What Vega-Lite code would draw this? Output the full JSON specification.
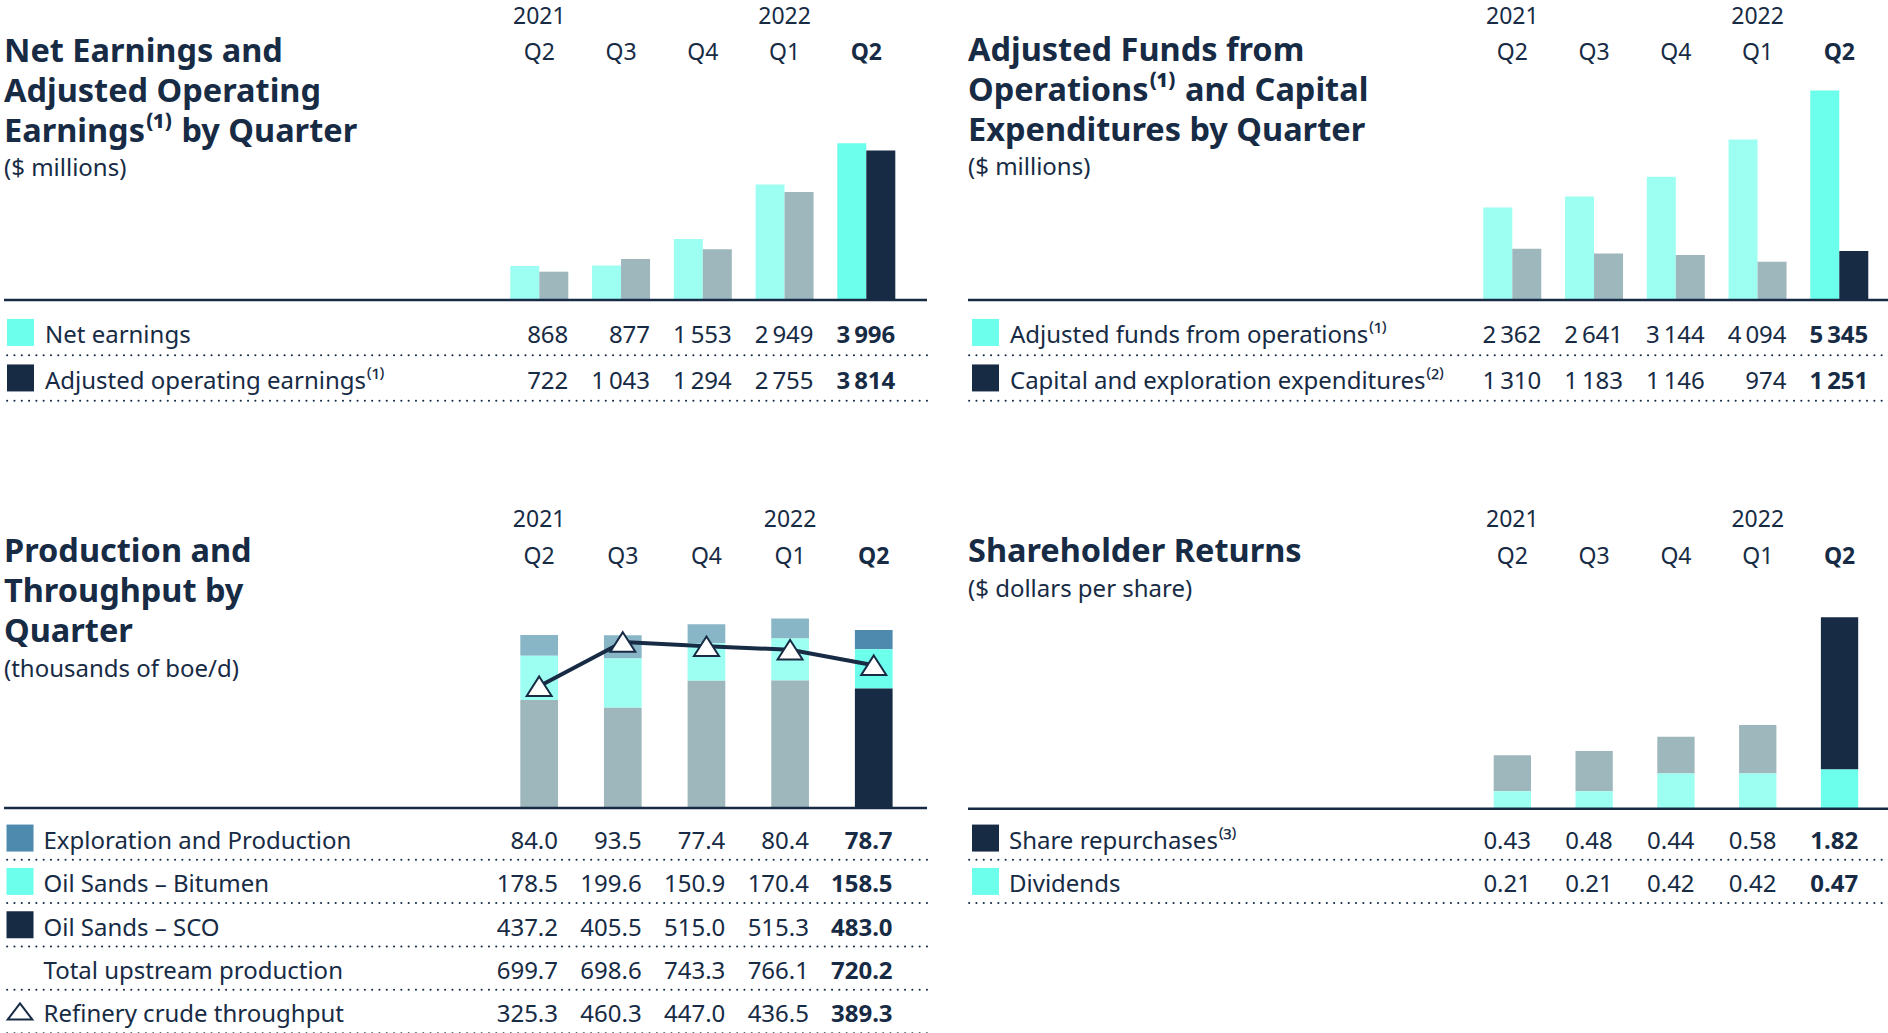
{
"$schema": "https://vega.github.io/schema/vega-lite/v6.json",
"background": "white",
"padding": {"left": 2, "top": 4.7, "right": 0, "bottom": 0},
"config": {
  "font": "Noto Sans",
  "view": {"stroke": null},
  "locale": {"number": {"decimal": ".", "thousands": "\u2009", "grouping": [3], "currency": ["$", ""]}},
  "title": {"orient": "bottom", "anchor": "start", "frame": "group", "baseline": "top", "fontSize": 32.5, "fontWeight": "bold", "color": "#172b45", "lineHeight": 40, "subtitleFontSize": 24, "subtitleColor": "#172b45", "subtitlePadding": 9, "subtitleFontWeight": "normal", "subtitleLineHeight": 30}
},
"datasets": {
  "earn": [
    {"q": "Q2 2021", "series": "Net earnings", "value": 868},
    {"q": "Q2 2021", "series": "Adjusted operating earnings⁽¹⁾", "value": 722},
    {"q": "Q3 2021", "series": "Net earnings", "value": 877},
    {"q": "Q3 2021", "series": "Adjusted operating earnings⁽¹⁾", "value": 1043},
    {"q": "Q4 2021", "series": "Net earnings", "value": 1553},
    {"q": "Q4 2021", "series": "Adjusted operating earnings⁽¹⁾", "value": 1294},
    {"q": "Q1 2022", "series": "Net earnings", "value": 2949},
    {"q": "Q1 2022", "series": "Adjusted operating earnings⁽¹⁾", "value": 2755},
    {"q": "Q2 2022", "series": "Net earnings", "value": 3996},
    {"q": "Q2 2022", "series": "Adjusted operating earnings⁽¹⁾", "value": 3814}
  ],
  "funds": [
    {"q": "Q2 2021", "series": "Adjusted funds from operations⁽¹⁾", "value": 2362},
    {"q": "Q2 2021", "series": "Capital and exploration expenditures⁽²⁾", "value": 1310},
    {"q": "Q3 2021", "series": "Adjusted funds from operations⁽¹⁾", "value": 2641},
    {"q": "Q3 2021", "series": "Capital and exploration expenditures⁽²⁾", "value": 1183},
    {"q": "Q4 2021", "series": "Adjusted funds from operations⁽¹⁾", "value": 3144},
    {"q": "Q4 2021", "series": "Capital and exploration expenditures⁽²⁾", "value": 1146},
    {"q": "Q1 2022", "series": "Adjusted funds from operations⁽¹⁾", "value": 4094},
    {"q": "Q1 2022", "series": "Capital and exploration expenditures⁽²⁾", "value": 974},
    {"q": "Q2 2022", "series": "Adjusted funds from operations⁽¹⁾", "value": 5345},
    {"q": "Q2 2022", "series": "Capital and exploration expenditures⁽²⁾", "value": 1251}
  ],
  "prod": [
    {"q": "Q2 2021", "series": "Exploration and Production", "value": 84.0},
    {"q": "Q3 2021", "series": "Exploration and Production", "value": 93.5},
    {"q": "Q4 2021", "series": "Exploration and Production", "value": 77.4},
    {"q": "Q1 2022", "series": "Exploration and Production", "value": 80.4},
    {"q": "Q2 2022", "series": "Exploration and Production", "value": 78.7},
    {"q": "Q2 2021", "series": "Oil Sands – Bitumen", "value": 178.5},
    {"q": "Q3 2021", "series": "Oil Sands – Bitumen", "value": 199.6},
    {"q": "Q4 2021", "series": "Oil Sands – Bitumen", "value": 150.9},
    {"q": "Q1 2022", "series": "Oil Sands – Bitumen", "value": 170.4},
    {"q": "Q2 2022", "series": "Oil Sands – Bitumen", "value": 158.5},
    {"q": "Q2 2021", "series": "Oil Sands – SCO", "value": 437.2},
    {"q": "Q3 2021", "series": "Oil Sands – SCO", "value": 405.5},
    {"q": "Q4 2021", "series": "Oil Sands – SCO", "value": 515.0},
    {"q": "Q1 2022", "series": "Oil Sands – SCO", "value": 515.3},
    {"q": "Q2 2022", "series": "Oil Sands – SCO", "value": 483.0},
    {"q": "Q2 2021", "series": "Refinery crude throughput", "value": 325.3},
    {"q": "Q3 2021", "series": "Refinery crude throughput", "value": 460.3},
    {"q": "Q4 2021", "series": "Refinery crude throughput", "value": 447.0},
    {"q": "Q1 2022", "series": "Refinery crude throughput", "value": 436.5},
    {"q": "Q2 2022", "series": "Refinery crude throughput", "value": 389.3}
  ],
  "returns": [
    {"q": "Q2 2021", "series": "Share repurchases⁽³⁾", "value": 0.43},
    {"q": "Q2 2021", "series": "Dividends", "value": 0.21},
    {"q": "Q3 2021", "series": "Share repurchases⁽³⁾", "value": 0.48},
    {"q": "Q3 2021", "series": "Dividends", "value": 0.21},
    {"q": "Q4 2021", "series": "Share repurchases⁽³⁾", "value": 0.44},
    {"q": "Q4 2021", "series": "Dividends", "value": 0.42},
    {"q": "Q1 2022", "series": "Share repurchases⁽³⁾", "value": 0.58},
    {"q": "Q1 2022", "series": "Dividends", "value": 0.42},
    {"q": "Q2 2022", "series": "Share repurchases⁽³⁾", "value": 1.82},
    {"q": "Q2 2022", "series": "Dividends", "value": 0.47}
  ],
  "rows1": [{"row": "Net earnings"}, {"row": "Adjusted operating earnings⁽¹⁾"}],
  "rows2": [{"row": "Adjusted funds from operations⁽¹⁾"}, {"row": "Capital and exploration expenditures⁽²⁾"}],
  "rows3": [{"row": "Exploration and Production"}, {"row": "Oil Sands – Bitumen"}, {"row": "Oil Sands – SCO"}, {"row": "Total upstream production"}, {"row": "Refinery crude throughput"}],
  "rows4": [{"row": "Share repurchases⁽³⁾"}, {"row": "Dividends"}]
},
"spacing": 104.1,
"vconcat": [
{
"hconcat": [
{
  "width": 923, "height": 333,
  "title": {"text": ["Net Earnings and", "Adjusted Operating", "Earnings⁽¹⁾ by Quarter"], "subtitle": "($ millions)", "offset": -368},
  "layer": [
    {
      "data": {"name": "earn"},
      "layer": [
        {
          "transform": [{"filter": "datum.series == 'Net earnings'"}],
          "mark": {"type": "bar"},
          "encoding": {
            "x": {"field": "q", "type": "nominal", "scale": {"type": "band", "domain": ["Q2 2021", "Q3 2021", "Q4 2021", "Q1 2022", "Q2 2022"], "range": [506.3, 862.3], "paddingInner": 0.6453, "paddingOuter": 0}, "axis": null},
            "y": {"field": "value", "type": "quantitative", "scale": {"domain": [-2645.4, 5849.5], "nice": false, "zero": false}, "axis": null},
            "y2": {"datum": 0},
            "color": {"field": "q", "type": "nominal", "scale": {"domain": ["Q2 2021", "Q3 2021", "Q4 2021", "Q1 2022", "Q2 2022"], "range": ["#9cfff2", "#9cfff2", "#9cfff2", "#9cfff2", "#6bffec"]}, "legend": null}
          }
        },
        {
          "transform": [{"filter": "datum.series != 'Net earnings'"}],
          "mark": {"type": "bar"},
          "encoding": {
            "x": {"field": "q", "type": "nominal", "scale": {"type": "band", "domain": ["Q2 2021", "Q3 2021", "Q4 2021", "Q1 2022", "Q2 2022"], "range": [535.3, 891.3], "paddingInner": 0.6453, "paddingOuter": 0}, "axis": null},
            "y": {"field": "value", "type": "quantitative", "scale": {"domain": [-2645.4, 5849.5], "nice": false, "zero": false}, "axis": null},
            "y2": {"datum": 0},
            "color": {"field": "q", "type": "nominal", "scale": {"domain": ["Q2 2021", "Q3 2021", "Q4 2021", "Q1 2022", "Q2 2022"], "range": ["#9eb7bc", "#9eb7bc", "#9eb7bc", "#9eb7bc", "#172b45"]}, "legend": null}
          }
        },
        {
          "data": {"values": [{}]},
          "mark": {"type": "rule", "color": "#172b45", "strokeWidth": 2.5},
          "encoding": {"y": {"datum": 0, "type": "quantitative", "scale": {"domain": [-2645.4, 5849.5], "nice": false, "zero": false}, "axis": null}}
        }
      ],
      "resolve": {"scale": {"x": "independent", "color": "independent"}}
    },
    {
      "data": {"name": "earn"},
      "layer": [
        {
          "transform": [{"filter": "datum.q != 'Q2 2022'"}],
          "mark": {"type": "text", "align": "right", "baseline": "middle", "dy": 4, "fontSize": 24, "color": "#172b45"},
          "encoding": {
            "x": {"field": "q", "type": "nominal", "bandPosition": 1, "scale": {"type": "band", "domain": ["Q2 2021", "Q3 2021", "Q4 2021", "Q1 2022", "Q2 2022"], "range": [506.3, 891.3], "paddingInner": 0.2905, "paddingOuter": 0},
              "axis": {"orient": "top", "domain": false, "ticks": false, "tickSize": 0, "grid": false, "title": null, "labelAngle": 0, "labelFontSize": 23, "labelColor": "#172b45", "labelLineHeight": 36.6, "labelPadding": 47.3, "labelBaseline": "alphabetic", "labelOverlap": false, "labelBound": false, "labelFlush": false, "labelExpr": "datum.value == 'Q2 2021' ? ['2021', 'Q2'] : datum.value == 'Q1 2022' ? ['2022', 'Q1'] : ['', substring(datum.value, 0, 2)]", "labelFontWeight": {"condition": {"test": "datum.value == 'Q2 2022'", "value": "bold"}, "value": "normal"}}},
            "y": {"field": "series", "type": "nominal", "scale": {"type": "band", "domain": ["Net earnings", "Adjusted operating earnings⁽¹⁾"], "range": [239, 330], "paddingInner": 0, "paddingOuter": 0}, "axis": null},
            "text": {"field": "value", "type": "quantitative", "format": ",.0f"}
          }
        },
        {
          "transform": [{"filter": "datum.q == 'Q2 2022'"}],
          "mark": {"type": "text", "align": "right", "baseline": "middle", "dy": 4, "fontSize": 24, "fontWeight": "bold", "color": "#172b45"},
          "encoding": {
            "x": {"field": "q", "type": "nominal", "bandPosition": 1, "scale": {"type": "band", "domain": ["Q2 2021", "Q3 2021", "Q4 2021", "Q1 2022", "Q2 2022"], "range": [506.3, 891.3], "paddingInner": 0.2905, "paddingOuter": 0},
              "axis": {"orient": "top", "domain": false, "ticks": false, "tickSize": 0, "grid": false, "title": null, "labelAngle": 0, "labelFontSize": 23, "labelColor": "#172b45", "labelLineHeight": 36.6, "labelPadding": 47.3, "labelBaseline": "alphabetic", "labelOverlap": false, "labelBound": false, "labelFlush": false, "labelExpr": "datum.value == 'Q2 2021' ? ['2021', 'Q2'] : datum.value == 'Q1 2022' ? ['2022', 'Q1'] : ['', substring(datum.value, 0, 2)]", "labelFontWeight": {"condition": {"test": "datum.value == 'Q2 2022'", "value": "bold"}, "value": "normal"}}},
            "y": {"field": "series", "type": "nominal", "scale": {"type": "band", "domain": ["Net earnings", "Adjusted operating earnings⁽¹⁾"], "range": [239, 330], "paddingInner": 0, "paddingOuter": 0}, "axis": null},
            "text": {"field": "value", "type": "quantitative", "format": ",.0f"}
          }
        },
        {
          "data": {"name": "rows1"},
          "mark": {"type": "rule", "color": "#172b45", "strokeWidth": 2, "strokeDash": [0.1, 7.2], "strokeCap": "round"},
          "encoding": {"y": {"field": "row", "type": "nominal", "bandPosition": 1, "scale": {"type": "band", "domain": ["Net earnings", "Adjusted operating earnings⁽¹⁾"], "range": [239, 330], "paddingInner": 0, "paddingOuter": 0}, "axis": null}}
        }
      ]
    },
    {
      "data": {"name": "rows1"},
      "layer": [
        {
          "mark": {"type": "point", "shape": "square", "filled": true, "size": 729, "opacity": 1},
          "encoding": {
            "x": {"datum": "swatch", "type": "nominal", "scale": {"type": "point", "domain": ["swatch", "label"], "range": [16.5, 41], "padding": 0}, "axis": null},
            "y": {"field": "row", "type": "nominal", "scale": {"type": "band", "domain": ["Net earnings", "Adjusted operating earnings⁽¹⁾"], "range": [239, 330], "paddingInner": 0, "paddingOuter": 0}, "axis": null},
            "color": {"field": "row", "type": "nominal", "scale": {"domain": ["Net earnings", "Adjusted operating earnings⁽¹⁾"], "range": ["#6bffec", "#172b45"]}, "legend": null}
          }
        },
        {
          "mark": {"type": "text", "align": "left", "baseline": "middle", "dy": 4, "fontSize": 24, "color": "#172b45"},
          "encoding": {
            "x": {"datum": "label", "type": "nominal", "scale": {"type": "point", "domain": ["swatch", "label"], "range": [16.5, 41], "padding": 0}, "axis": null},
            "y": {"field": "row", "type": "nominal", "scale": {"type": "band", "domain": ["Net earnings", "Adjusted operating earnings⁽¹⁾"], "range": [239, 330], "paddingInner": 0, "paddingOuter": 0}, "axis": null},
            "text": {"field": "row", "type": "nominal"}
          }
        }
      ]
    }
  ],
  "resolve": {"scale": {"x": "independent", "y": "independent", "color": "independent"}}
},
{
  "width": 921, "height": 333,
  "title": {"text": ["Adjusted Funds from", "Operations⁽¹⁾ and Capital", "Expenditures by Quarter"], "subtitle": "($ millions)", "offset": -369},
  "layer": [
    {
      "data": {"name": "funds"},
      "layer": [
        {
          "transform": [{"filter": "datum.series == 'Adjusted funds from operations⁽¹⁾'"}],
          "mark": {"type": "bar"},
          "encoding": {
            "x": {"field": "q", "type": "nominal", "scale": {"type": "band", "domain": ["Q2 2021", "Q3 2021", "Q4 2021", "Q1 2022", "Q2 2022"], "range": [515.3, 871.3], "paddingInner": 0.6453, "paddingOuter": 0}, "axis": null},
            "y": {"field": "value", "type": "quantitative", "scale": {"domain": [-2645.4, 5849.5], "nice": false, "zero": false}, "axis": null},
            "y2": {"datum": 0},
            "color": {"field": "q", "type": "nominal", "scale": {"domain": ["Q2 2021", "Q3 2021", "Q4 2021", "Q1 2022", "Q2 2022"], "range": ["#9cfff2", "#9cfff2", "#9cfff2", "#9cfff2", "#6bffec"]}, "legend": null}
          }
        },
        {
          "transform": [{"filter": "datum.series != 'Adjusted funds from operations⁽¹⁾'"}],
          "mark": {"type": "bar"},
          "encoding": {
            "x": {"field": "q", "type": "nominal", "scale": {"type": "band", "domain": ["Q2 2021", "Q3 2021", "Q4 2021", "Q1 2022", "Q2 2022"], "range": [544.3, 900.3], "paddingInner": 0.6453, "paddingOuter": 0}, "axis": null},
            "y": {"field": "value", "type": "quantitative", "scale": {"domain": [-2645.4, 5849.5], "nice": false, "zero": false}, "axis": null},
            "y2": {"datum": 0},
            "color": {"field": "q", "type": "nominal", "scale": {"domain": ["Q2 2021", "Q3 2021", "Q4 2021", "Q1 2022", "Q2 2022"], "range": ["#9eb7bc", "#9eb7bc", "#9eb7bc", "#9eb7bc", "#172b45"]}, "legend": null}
          }
        },
        {
          "data": {"values": [{}]},
          "mark": {"type": "rule", "color": "#172b45", "strokeWidth": 2.5},
          "encoding": {"y": {"datum": 0, "type": "quantitative", "scale": {"domain": [-2645.4, 5849.5], "nice": false, "zero": false}, "axis": null}}
        }
      ],
      "resolve": {"scale": {"x": "independent", "color": "independent"}}
    },
    {
      "data": {"name": "funds"},
      "layer": [
        {
          "transform": [{"filter": "datum.q != 'Q2 2022'"}],
          "mark": {"type": "text", "align": "right", "baseline": "middle", "dy": 4, "fontSize": 24, "color": "#172b45"},
          "encoding": {
            "x": {"field": "q", "type": "nominal", "bandPosition": 1, "scale": {"type": "band", "domain": ["Q2 2021", "Q3 2021", "Q4 2021", "Q1 2022", "Q2 2022"], "range": [515.3, 900.3], "paddingInner": 0.2905, "paddingOuter": 0},
              "axis": {"orient": "top", "domain": false, "ticks": false, "tickSize": 0, "grid": false, "title": null, "labelAngle": 0, "labelFontSize": 23, "labelColor": "#172b45", "labelLineHeight": 36.6, "labelPadding": 47.3, "labelBaseline": "alphabetic", "labelOverlap": false, "labelBound": false, "labelFlush": false, "labelExpr": "datum.value == 'Q2 2021' ? ['2021', 'Q2'] : datum.value == 'Q1 2022' ? ['2022', 'Q1'] : ['', substring(datum.value, 0, 2)]", "labelFontWeight": {"condition": {"test": "datum.value == 'Q2 2022'", "value": "bold"}, "value": "normal"}}},
            "y": {"field": "series", "type": "nominal", "scale": {"type": "band", "domain": ["Adjusted funds from operations⁽¹⁾", "Capital and exploration expenditures⁽²⁾"], "range": [239, 330], "paddingInner": 0, "paddingOuter": 0}, "axis": null},
            "text": {"field": "value", "type": "quantitative", "format": ",.0f"}
          }
        },
        {
          "transform": [{"filter": "datum.q == 'Q2 2022'"}],
          "mark": {"type": "text", "align": "right", "baseline": "middle", "dy": 4, "fontSize": 24, "fontWeight": "bold", "color": "#172b45"},
          "encoding": {
            "x": {"field": "q", "type": "nominal", "bandPosition": 1, "scale": {"type": "band", "domain": ["Q2 2021", "Q3 2021", "Q4 2021", "Q1 2022", "Q2 2022"], "range": [515.3, 900.3], "paddingInner": 0.2905, "paddingOuter": 0},
              "axis": {"orient": "top", "domain": false, "ticks": false, "tickSize": 0, "grid": false, "title": null, "labelAngle": 0, "labelFontSize": 23, "labelColor": "#172b45", "labelLineHeight": 36.6, "labelPadding": 47.3, "labelBaseline": "alphabetic", "labelOverlap": false, "labelBound": false, "labelFlush": false, "labelExpr": "datum.value == 'Q2 2021' ? ['2021', 'Q2'] : datum.value == 'Q1 2022' ? ['2022', 'Q1'] : ['', substring(datum.value, 0, 2)]", "labelFontWeight": {"condition": {"test": "datum.value == 'Q2 2022'", "value": "bold"}, "value": "normal"}}},
            "y": {"field": "series", "type": "nominal", "scale": {"type": "band", "domain": ["Adjusted funds from operations⁽¹⁾", "Capital and exploration expenditures⁽²⁾"], "range": [239, 330], "paddingInner": 0, "paddingOuter": 0}, "axis": null},
            "text": {"field": "value", "type": "quantitative", "format": ",.0f"}
          }
        },
        {
          "data": {"name": "rows2"},
          "mark": {"type": "rule", "color": "#172b45", "strokeWidth": 2, "strokeDash": [0.1, 7.2], "strokeCap": "round"},
          "encoding": {"y": {"field": "row", "type": "nominal", "bandPosition": 1, "scale": {"type": "band", "domain": ["Adjusted funds from operations⁽¹⁾", "Capital and exploration expenditures⁽²⁾"], "range": [239, 330], "paddingInner": 0, "paddingOuter": 0}, "axis": null}}
        }
      ]
    },
    {
      "data": {"name": "rows2"},
      "layer": [
        {
          "mark": {"type": "point", "shape": "square", "filled": true, "size": 729, "opacity": 1},
          "encoding": {
            "x": {"datum": "swatch", "type": "nominal", "scale": {"type": "point", "domain": ["swatch", "label"], "range": [17.5, 42], "padding": 0}, "axis": null},
            "y": {"field": "row", "type": "nominal", "scale": {"type": "band", "domain": ["Adjusted funds from operations⁽¹⁾", "Capital and exploration expenditures⁽²⁾"], "range": [239, 330], "paddingInner": 0, "paddingOuter": 0}, "axis": null},
            "color": {"field": "row", "type": "nominal", "scale": {"domain": ["Adjusted funds from operations⁽¹⁾", "Capital and exploration expenditures⁽²⁾"], "range": ["#6bffec", "#172b45"]}, "legend": null}
          }
        },
        {
          "mark": {"type": "text", "align": "left", "baseline": "middle", "dy": 4, "fontSize": 24, "color": "#172b45"},
          "encoding": {
            "x": {"datum": "label", "type": "nominal", "scale": {"type": "point", "domain": ["swatch", "label"], "range": [17.5, 42], "padding": 0}, "axis": null},
            "y": {"field": "row", "type": "nominal", "scale": {"type": "band", "domain": ["Adjusted funds from operations⁽¹⁾", "Capital and exploration expenditures⁽²⁾"], "range": [239, 330], "paddingInner": 0, "paddingOuter": 0}, "axis": null},
            "text": {"field": "row", "type": "nominal"}
          }
        }
      ]
    }
  ],
  "resolve": {"scale": {"x": "independent", "y": "independent", "color": "independent"}}
}
],
"spacing": 41,
"bounds": "flush"
},
{
"hconcat": [
{
  "width": 923, "height": 460,
  "title": {"text": ["Production and", "Throughput by", "Quarter"], "subtitle": "(thousands of boe/d)", "offset": -497.7},
  "layer": [
    {
      "data": {"name": "prod"},
      "layer": [
        {
          "transform": [{"filter": "datum.series != 'Refinery crude throughput'"}, {"filter": "datum.q != 'Q2 2022'"}],
          "mark": {"type": "bar"},
          "encoding": {
            "x": {"field": "q", "type": "nominal", "scale": {"type": "band", "domain": ["Q2 2021", "Q3 2021", "Q4 2021", "Q1 2022", "Q2 2022"], "range": [516.3, 888.6], "paddingInner": 0.5493, "paddingOuter": 0},
              "axis": {"orient": "top", "domain": false, "ticks": false, "tickSize": 0, "grid": false, "title": null, "labelAngle": 0, "labelFontSize": 23, "labelColor": "#172b45", "labelLineHeight": 36.6, "labelPadding": 47.3, "labelBaseline": "alphabetic", "labelOverlap": false, "labelBound": false, "labelFlush": false, "labelExpr": "datum.value == 'Q2 2021' ? ['2021', 'Q2'] : datum.value == 'Q1 2022' ? ['2022', 'Q1'] : ['', substring(datum.value, 0, 2)]", "labelFontWeight": {"condition": {"test": "datum.value == 'Q2 2022'", "value": "bold"}, "value": "normal"}}},
            "y": {"field": "value", "type": "quantitative", "stack": "zero", "scale": {"domain": [-912.3, 947.0], "nice": false, "zero": false}, "axis": null},
            "color": {"field": "series", "type": "nominal", "scale": {"domain": ["Exploration and Production", "Oil Sands – Bitumen", "Oil Sands – SCO"], "range": ["#88b6c6", "#9cfff2", "#9eb7bc"]}, "legend": null},
            "order": {"field": "series", "sort": "descending"}
          }
        },
        {
          "transform": [{"filter": "datum.series != 'Refinery crude throughput'"}, {"filter": "datum.q == 'Q2 2022'"}],
          "mark": {"type": "bar"},
          "encoding": {
            "x": {"field": "q", "type": "nominal", "scale": {"type": "band", "domain": ["Q2 2021", "Q3 2021", "Q4 2021", "Q1 2022", "Q2 2022"], "range": [516.3, 888.6], "paddingInner": 0.5493, "paddingOuter": 0},
              "axis": {"orient": "top", "domain": false, "ticks": false, "tickSize": 0, "grid": false, "title": null, "labelAngle": 0, "labelFontSize": 23, "labelColor": "#172b45", "labelLineHeight": 36.6, "labelPadding": 47.3, "labelBaseline": "alphabetic", "labelOverlap": false, "labelBound": false, "labelFlush": false, "labelExpr": "datum.value == 'Q2 2021' ? ['2021', 'Q2'] : datum.value == 'Q1 2022' ? ['2022', 'Q1'] : ['', substring(datum.value, 0, 2)]", "labelFontWeight": {"condition": {"test": "datum.value == 'Q2 2022'", "value": "bold"}, "value": "normal"}}},
            "y": {"field": "value", "type": "quantitative", "stack": "zero", "scale": {"domain": [-912.3, 947.0], "nice": false, "zero": false}, "axis": null},
            "color": {"field": "series", "type": "nominal", "scale": {"domain": ["Exploration and Production", "Oil Sands – Bitumen", "Oil Sands – SCO"], "range": ["#4e8aad", "#6bffec", "#172b45"]}, "legend": null},
            "order": {"field": "series", "sort": "descending"}
          }
        },
        {
          "data": {"values": [{}]},
          "mark": {"type": "rule", "color": "#172b45", "strokeWidth": 2.5},
          "encoding": {"y": {"datum": 0, "type": "quantitative", "scale": {"domain": [-912.3, 947.0], "nice": false, "zero": false}, "axis": null}}
        }
      ],
      "resolve": {"scale": {"color": "independent"}}
    },
    {
      "data": {"name": "prod"},
      "transform": [{"filter": "datum.series == 'Refinery crude throughput'"}],
      "layer": [
        {
          "mark": {"type": "line", "color": "#172b45", "strokeWidth": 4},
          "encoding": {
            "x": {"field": "q", "type": "nominal", "scale": {"type": "band", "domain": ["Q2 2021", "Q3 2021", "Q4 2021", "Q1 2022", "Q2 2022"], "range": [516.3, 888.6], "paddingInner": 0.5493, "paddingOuter": 0}, "axis": null},
            "y": {"field": "value", "type": "quantitative", "scale": {"domain": [-734.5, 668], "nice": false, "zero": false}, "axis": null}
          }
        },
        {
          "mark": {"type": "point", "shape": "M0,-0.78L1,0.78L-1,0.78Z", "filled": true, "fill": "white", "stroke": "#172b45", "strokeWidth": 2, "size": 625, "opacity": 1},
          "encoding": {
            "x": {"field": "q", "type": "nominal", "scale": {"type": "band", "domain": ["Q2 2021", "Q3 2021", "Q4 2021", "Q1 2022", "Q2 2022"], "range": [516.3, 888.6], "paddingInner": 0.5493, "paddingOuter": 0}, "axis": null},
            "y": {"field": "value", "type": "quantitative", "scale": {"domain": [-734.5, 668], "nice": false, "zero": false}, "axis": null}
          }
        }
      ]
    },
    {
      "data": {"name": "prod"},
      "layer": [
        {
          "transform": [{"filter": "datum.q != 'Q2 2022'"}],
          "mark": {"type": "text", "align": "right", "baseline": "middle", "dy": 4, "fontSize": 24, "color": "#172b45"},
          "encoding": {
            "x": {"field": "q", "type": "nominal", "bandPosition": 1, "scale": {"type": "band", "domain": ["Q2 2021", "Q3 2021", "Q4 2021", "Q1 2022", "Q2 2022"], "range": [516.3, 888.6], "paddingInner": 0.5493, "paddingOuter": 0}, "axis": null},
            "y": {"field": "series", "type": "nominal", "scale": {"type": "band", "domain": ["Exploration and Production", "Oil Sands – Bitumen", "Oil Sands – SCO", "Total upstream production", "Refinery crude throughput"], "range": [242.6, 459.35], "paddingInner": 0, "paddingOuter": 0}, "axis": null},
            "text": {"field": "value", "type": "quantitative", "format": ".1f"}
          }
        },
        {
          "transform": [{"filter": "datum.q == 'Q2 2022'"}],
          "mark": {"type": "text", "align": "right", "baseline": "middle", "dy": 4, "fontSize": 24, "fontWeight": "bold", "color": "#172b45"},
          "encoding": {
            "x": {"field": "q", "type": "nominal", "bandPosition": 1, "scale": {"type": "band", "domain": ["Q2 2021", "Q3 2021", "Q4 2021", "Q1 2022", "Q2 2022"], "range": [516.3, 888.6], "paddingInner": 0.5493, "paddingOuter": 0}, "axis": null},
            "y": {"field": "series", "type": "nominal", "scale": {"type": "band", "domain": ["Exploration and Production", "Oil Sands – Bitumen", "Oil Sands – SCO", "Total upstream production", "Refinery crude throughput"], "range": [242.6, 459.35], "paddingInner": 0, "paddingOuter": 0}, "axis": null},
            "text": {"field": "value", "type": "quantitative", "format": ".1f"}
          }
        },
        {
          "transform": [{"filter": "datum.series != 'Refinery crude throughput'"}, {"aggregate": [{"op": "sum", "field": "value", "as": "total"}], "groupby": ["q"]}, {"filter": "datum.q != 'Q2 2022'"}],
          "mark": {"type": "text", "align": "right", "baseline": "middle", "dy": 4, "fontSize": 24, "color": "#172b45"},
          "encoding": {
            "x": {"field": "q", "type": "nominal", "bandPosition": 1, "scale": {"type": "band", "domain": ["Q2 2021", "Q3 2021", "Q4 2021", "Q1 2022", "Q2 2022"], "range": [516.3, 888.6], "paddingInner": 0.5493, "paddingOuter": 0}, "axis": null},
            "y": {"datum": "Total upstream production", "type": "nominal", "scale": {"type": "band", "domain": ["Exploration and Production", "Oil Sands – Bitumen", "Oil Sands – SCO", "Total upstream production", "Refinery crude throughput"], "range": [242.6, 459.35], "paddingInner": 0, "paddingOuter": 0}, "axis": null},
            "text": {"field": "total", "type": "quantitative", "format": ".1f"}
          }
        },
        {
          "transform": [{"filter": "datum.series != 'Refinery crude throughput'"}, {"aggregate": [{"op": "sum", "field": "value", "as": "total"}], "groupby": ["q"]}, {"filter": "datum.q == 'Q2 2022'"}],
          "mark": {"type": "text", "align": "right", "baseline": "middle", "dy": 4, "fontSize": 24, "fontWeight": "bold", "color": "#172b45"},
          "encoding": {
            "x": {"field": "q", "type": "nominal", "bandPosition": 1, "scale": {"type": "band", "domain": ["Q2 2021", "Q3 2021", "Q4 2021", "Q1 2022", "Q2 2022"], "range": [516.3, 888.6], "paddingInner": 0.5493, "paddingOuter": 0}, "axis": null},
            "y": {"datum": "Total upstream production", "type": "nominal", "scale": {"type": "band", "domain": ["Exploration and Production", "Oil Sands – Bitumen", "Oil Sands – SCO", "Total upstream production", "Refinery crude throughput"], "range": [242.6, 459.35], "paddingInner": 0, "paddingOuter": 0}, "axis": null},
            "text": {"field": "total", "type": "quantitative", "format": ".1f"}
          }
        },
        {
          "data": {"name": "rows3"},
          "mark": {"type": "rule", "color": "#172b45", "strokeWidth": 2, "strokeDash": [0.1, 7.2], "strokeCap": "round"},
          "encoding": {"y": {"field": "row", "type": "nominal", "bandPosition": 1, "scale": {"type": "band", "domain": ["Exploration and Production", "Oil Sands – Bitumen", "Oil Sands – SCO", "Total upstream production", "Refinery crude throughput"], "range": [242.6, 459.35], "paddingInner": 0, "paddingOuter": 0}, "axis": null}}
        }
      ]
    },
    {
      "data": {"name": "rows3"},
      "layer": [
        {
          "transform": [{"filter": "datum.row != 'Total upstream production' && datum.row != 'Refinery crude throughput'"}],
          "mark": {"type": "point", "shape": "square", "filled": true, "size": 729, "opacity": 1},
          "encoding": {
            "x": {"datum": "swatch", "type": "nominal", "scale": {"type": "point", "domain": ["swatch", "label"], "range": [16, 39.5], "padding": 0}, "axis": null},
            "y": {"field": "row", "type": "nominal", "scale": {"type": "band", "domain": ["Exploration and Production", "Oil Sands – Bitumen", "Oil Sands – SCO", "Total upstream production", "Refinery crude throughput"], "range": [242.6, 459.35], "paddingInner": 0, "paddingOuter": 0}, "axis": null},
            "color": {"field": "row", "type": "nominal", "scale": {"domain": ["Exploration and Production", "Oil Sands – Bitumen", "Oil Sands – SCO"], "range": ["#4e8aad", "#6bffec", "#172b45"]}, "legend": null}
          }
        },
        {
          "transform": [{"filter": "datum.row == 'Refinery crude throughput'"}],
          "mark": {"type": "point", "shape": "M0,-0.66L1,0.66L-1,0.66Z", "filled": true, "fill": "white", "stroke": "#172b45", "strokeWidth": 2, "size": 610, "opacity": 1},
          "encoding": {
            "x": {"datum": "swatch", "type": "nominal", "scale": {"type": "point", "domain": ["swatch", "label"], "range": [16, 39.5], "padding": 0}, "axis": null},
            "y": {"field": "row", "type": "nominal", "scale": {"type": "band", "domain": ["Exploration and Production", "Oil Sands – Bitumen", "Oil Sands – SCO", "Total upstream production", "Refinery crude throughput"], "range": [242.6, 459.35], "paddingInner": 0, "paddingOuter": 0}, "axis": null}
          }
        },
        {
          "mark": {"type": "text", "align": "left", "baseline": "middle", "dy": 4, "fontSize": 24, "color": "#172b45"},
          "encoding": {
            "x": {"datum": "label", "type": "nominal", "scale": {"type": "point", "domain": ["swatch", "label"], "range": [16, 39.5], "padding": 0}, "axis": null},
            "y": {"field": "row", "type": "nominal", "scale": {"type": "band", "domain": ["Exploration and Production", "Oil Sands – Bitumen", "Oil Sands – SCO", "Total upstream production", "Refinery crude throughput"], "range": [242.6, 459.35], "paddingInner": 0, "paddingOuter": 0}, "axis": null},
            "text": {"field": "row", "type": "nominal"}
          }
        }
      ]
    }
  ],
  "resolve": {"scale": {"x": "independent", "y": "independent", "color": "independent"}}
},
{
  "width": 921, "height": 460,
  "title": {"text": "Shareholder Returns", "subtitle": "($ dollars per share)", "offset": -497.7},
  "layer": [
    {
      "data": {"name": "returns"},
      "layer": [
        {
          "transform": [{"filter": "datum.q != 'Q2 2022'"}],
          "mark": {"type": "bar"},
          "encoding": {
            "x": {"field": "q", "type": "nominal", "scale": {"type": "band", "domain": ["Q2 2021", "Q3 2021", "Q4 2021", "Q1 2022", "Q2 2022"], "range": [525.7, 890.2], "paddingInner": 0.544, "paddingOuter": 0},
              "axis": {"orient": "top", "domain": false, "ticks": false, "tickSize": 0, "grid": false, "title": null, "labelAngle": 0, "labelFontSize": 23, "labelColor": "#172b45", "labelLineHeight": 36.6, "labelPadding": 47.3, "labelBaseline": "alphabetic", "labelOverlap": false, "labelBound": false, "labelFlush": false, "labelExpr": "datum.value == 'Q2 2021' ? ['2021', 'Q2'] : datum.value == 'Q1 2022' ? ['2022', 'Q1'] : ['', substring(datum.value, 0, 2)]", "labelFontWeight": {"condition": {"test": "datum.value == 'Q2 2022'", "value": "bold"}, "value": "normal"}}},
            "y": {"field": "value", "type": "quantitative", "stack": "zero", "scale": {"domain": [-2.6926, 2.8098], "nice": false, "zero": false}, "axis": null},
            "color": {"field": "series", "type": "nominal", "scale": {"domain": ["Share repurchases⁽³⁾", "Dividends"], "range": ["#9eb7bc", "#9cfff2"]}, "legend": null},
            "order": {"field": "series", "sort": "ascending"}
          }
        },
        {
          "transform": [{"filter": "datum.q == 'Q2 2022'"}],
          "mark": {"type": "bar"},
          "encoding": {
            "x": {"field": "q", "type": "nominal", "scale": {"type": "band", "domain": ["Q2 2021", "Q3 2021", "Q4 2021", "Q1 2022", "Q2 2022"], "range": [525.7, 890.2], "paddingInner": 0.544, "paddingOuter": 0},
              "axis": {"orient": "top", "domain": false, "ticks": false, "tickSize": 0, "grid": false, "title": null, "labelAngle": 0, "labelFontSize": 23, "labelColor": "#172b45", "labelLineHeight": 36.6, "labelPadding": 47.3, "labelBaseline": "alphabetic", "labelOverlap": false, "labelBound": false, "labelFlush": false, "labelExpr": "datum.value == 'Q2 2021' ? ['2021', 'Q2'] : datum.value == 'Q1 2022' ? ['2022', 'Q1'] : ['', substring(datum.value, 0, 2)]", "labelFontWeight": {"condition": {"test": "datum.value == 'Q2 2022'", "value": "bold"}, "value": "normal"}}},
            "y": {"field": "value", "type": "quantitative", "stack": "zero", "scale": {"domain": [-2.6926, 2.8098], "nice": false, "zero": false}, "axis": null},
            "color": {"field": "series", "type": "nominal", "scale": {"domain": ["Share repurchases⁽³⁾", "Dividends"], "range": ["#172b45", "#6bffec"]}, "legend": null},
            "order": {"field": "series", "sort": "ascending"}
          }
        },
        {
          "data": {"values": [{}]},
          "mark": {"type": "rule", "color": "#172b45", "strokeWidth": 2.5},
          "encoding": {"y": {"datum": 0, "type": "quantitative", "scale": {"domain": [-2.6926, 2.8098], "nice": false, "zero": false}, "axis": null}}
        }
      ],
      "resolve": {"scale": {"color": "independent"}}
    },
    {
      "data": {"name": "returns"},
      "layer": [
        {
          "transform": [{"filter": "datum.q != 'Q2 2022'"}],
          "mark": {"type": "text", "align": "right", "baseline": "middle", "dy": 4, "fontSize": 24, "color": "#172b45"},
          "encoding": {
            "x": {"field": "q", "type": "nominal", "bandPosition": 1, "scale": {"type": "band", "domain": ["Q2 2021", "Q3 2021", "Q4 2021", "Q1 2022", "Q2 2022"], "range": [525.7, 890.2], "paddingInner": 0.544, "paddingOuter": 0}, "axis": null},
            "y": {"field": "series", "type": "nominal", "scale": {"type": "band", "domain": ["Share repurchases⁽³⁾", "Dividends"], "range": [242.6, 329.3], "paddingInner": 0, "paddingOuter": 0}, "axis": null},
            "text": {"field": "value", "type": "quantitative", "format": ".2f"}
          }
        },
        {
          "transform": [{"filter": "datum.q == 'Q2 2022'"}],
          "mark": {"type": "text", "align": "right", "baseline": "middle", "dy": 4, "fontSize": 24, "fontWeight": "bold", "color": "#172b45"},
          "encoding": {
            "x": {"field": "q", "type": "nominal", "bandPosition": 1, "scale": {"type": "band", "domain": ["Q2 2021", "Q3 2021", "Q4 2021", "Q1 2022", "Q2 2022"], "range": [525.7, 890.2], "paddingInner": 0.544, "paddingOuter": 0}, "axis": null},
            "y": {"field": "series", "type": "nominal", "scale": {"type": "band", "domain": ["Share repurchases⁽³⁾", "Dividends"], "range": [242.6, 329.3], "paddingInner": 0, "paddingOuter": 0}, "axis": null},
            "text": {"field": "value", "type": "quantitative", "format": ".2f"}
          }
        },
        {
          "data": {"name": "rows4"},
          "mark": {"type": "rule", "color": "#172b45", "strokeWidth": 2, "strokeDash": [0.1, 7.2], "strokeCap": "round"},
          "encoding": {"y": {"field": "row", "type": "nominal", "bandPosition": 1, "scale": {"type": "band", "domain": ["Share repurchases⁽³⁾", "Dividends"], "range": [242.6, 329.3], "paddingInner": 0, "paddingOuter": 0}, "axis": null}}
        }
      ]
    },
    {
      "data": {"name": "rows4"},
      "layer": [
        {
          "mark": {"type": "point", "shape": "square", "filled": true, "size": 729, "opacity": 1},
          "encoding": {
            "x": {"datum": "swatch", "type": "nominal", "scale": {"type": "point", "domain": ["swatch", "label"], "range": [17.5, 41], "padding": 0}, "axis": null},
            "y": {"field": "row", "type": "nominal", "scale": {"type": "band", "domain": ["Share repurchases⁽³⁾", "Dividends"], "range": [242.6, 329.3], "paddingInner": 0, "paddingOuter": 0}, "axis": null},
            "color": {"field": "row", "type": "nominal", "scale": {"domain": ["Share repurchases⁽³⁾", "Dividends"], "range": ["#172b45", "#6bffec"]}, "legend": null}
          }
        },
        {
          "mark": {"type": "text", "align": "left", "baseline": "middle", "dy": 4, "fontSize": 24, "color": "#172b45"},
          "encoding": {
            "x": {"datum": "label", "type": "nominal", "scale": {"type": "point", "domain": ["swatch", "label"], "range": [17.5, 41], "padding": 0}, "axis": null},
            "y": {"field": "row", "type": "nominal", "scale": {"type": "band", "domain": ["Share repurchases⁽³⁾", "Dividends"], "range": [242.6, 329.3], "paddingInner": 0, "paddingOuter": 0}, "axis": null},
            "text": {"field": "row", "type": "nominal"}
          }
        }
      ]
    }
  ],
  "resolve": {"scale": {"x": "independent", "y": "independent", "color": "independent"}}
}
],
"spacing": 41,
"bounds": "flush"
}
]
}
